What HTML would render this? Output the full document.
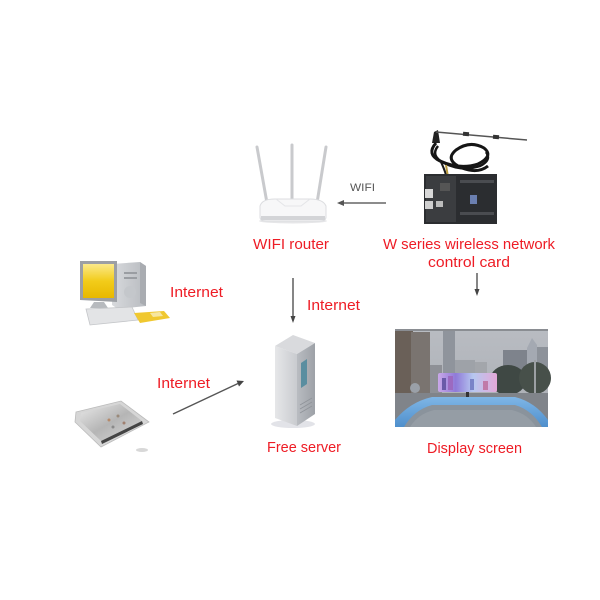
<!DOCTYPE html>
<html>
<head>
<meta charset="utf-8">
<style>
html,body{margin:0;padding:0;background:#fff;}
svg{display:block;}
text{font-family:"Liberation Sans","DejaVu Sans",sans-serif;}
</style>
</head>
<body>
<svg width="600" height="600" viewBox="0 0 600 600" xmlns="http://www.w3.org/2000/svg">
<defs>
  <linearGradient id="scr" x1="0" y1="0" x2="0" y2="1">
    <stop offset="0" stop-color="#fbe98a"/>
    <stop offset="0.5" stop-color="#f2cc1a"/>
    <stop offset="1" stop-color="#e8b800"/>
  </linearGradient>
  <linearGradient id="tower" x1="0" y1="0" x2="1" y2="0">
    <stop offset="0" stop-color="#d8dadd"/>
    <stop offset="1" stop-color="#b8bbc0"/>
  </linearGradient>
  <linearGradient id="srvF" x1="0" y1="0" x2="1" y2="0">
    <stop offset="0" stop-color="#e6e7e9"/>
    <stop offset="1" stop-color="#c9cbcf"/>
  </linearGradient>
  <linearGradient id="srvS" x1="0" y1="0" x2="1" y2="0">
    <stop offset="0" stop-color="#b9bcc1"/>
    <stop offset="1" stop-color="#9da1a7"/>
  </linearGradient>
  <linearGradient id="tab" x1="0" y1="0" x2="1" y2="1">
    <stop offset="0" stop-color="#e9e9e9"/>
    <stop offset="0.5" stop-color="#b5b5b5"/>
    <stop offset="1" stop-color="#d9d9d9"/>
  </linearGradient>
  <linearGradient id="sky" x1="0" y1="0" x2="0" y2="1">
    <stop offset="0" stop-color="#b9bcc2"/>
    <stop offset="1" stop-color="#a9adb3"/>
  </linearGradient>
  <linearGradient id="car" x1="0" y1="0" x2="0" y2="1">
    <stop offset="0" stop-color="#7fb6e6"/>
    <stop offset="1" stop-color="#4f8fcc"/>
  </linearGradient>
  <linearGradient id="led" x1="0" y1="0" x2="1" y2="0">
    <stop offset="0" stop-color="#c9a8e8"/>
    <stop offset="0.3" stop-color="#8f7ad8"/>
    <stop offset="0.6" stop-color="#b7c8f0"/>
    <stop offset="1" stop-color="#e4a8d8"/>
  </linearGradient>
</defs>

<!-- ===== WIFI router ===== -->
<g>
  <line x1="257" y1="147" x2="267" y2="203" stroke="#c9cacd" stroke-width="3" stroke-linecap="round"/>
  <line x1="292" y1="145" x2="292" y2="199" stroke="#c9cacd" stroke-width="3" stroke-linecap="round"/>
  <line x1="326" y1="147" x2="317" y2="203" stroke="#c9cacd" stroke-width="3" stroke-linecap="round"/>
  <ellipse cx="293" cy="221" rx="34" ry="2.5" fill="#e6e6e8"/>
  <path d="M260 206 Q262 199 275 199 L310 199 Q323 199 326 206 L326 217 Q326 221 320 221 L266 221 Q260 221 260 217 Z" fill="#f7f7f8" stroke="#dcdde0" stroke-width="1"/>
  <path d="M276 199 L285 206 L301 206 L310 199" fill="none" stroke="#e4e5e8" stroke-width="1"/>
  <rect x="261" y="216" width="64" height="4" fill="#d3d4d7"/>
</g>

<!-- WiFi arrow -->
<text x="350" y="191" font-size="11" fill="#555" textLength="25" lengthAdjust="spacingAndGlyphs">WIFI</text>
<line x1="343" y1="203" x2="386" y2="203" stroke="#666" stroke-width="1.5"/>
<path d="M337 203 L344 200 L344 206 Z" fill="#555"/>

<!-- ===== Control card ===== -->
<g>
  <!-- antenna -->
  <path d="M432 143 L434 132 L438 130 L440 143 Z" fill="#222"/>
  <line x1="436" y1="132" x2="527" y2="140" stroke="#555" stroke-width="1.5"/>
  <rect x="463" y="132" width="6" height="4" fill="#333" transform="rotate(5 466 134)"/>
  <rect x="493" y="135" width="6" height="4" fill="#333" transform="rotate(5 496 137)"/>
  <!-- cable loop -->
  <path d="M436 143 Q426 154 440 161 Q460 170 478 164 Q494 156 484 148 Q470 140 456 150 Q444 160 462 168 Q478 174 488 166" fill="none" stroke="#151515" stroke-width="3"/>
  <path d="M438 146 Q430 156 444 163 Q462 172 480 166 Q492 160 486 152" fill="none" stroke="#151515" stroke-width="2.5"/>
  <path d="M440 160 Q444 168 446 175" fill="none" stroke="#1a1a1a" stroke-width="2"/>
  <line x1="446" y1="165" x2="448" y2="177" stroke="#b89a40" stroke-width="2"/>
  <!-- board -->
  <rect x="424" y="174" width="73" height="50" fill="#2b2d30"/>
  <rect x="426" y="176" width="30" height="46" fill="#3b3d40"/>
  <rect x="425" y="189" width="8" height="9" fill="#d8d8d8"/>
  <rect x="425" y="201" width="8" height="8" fill="#cfcfcf"/>
  <rect x="436" y="201" width="7" height="6" fill="#bcbcbc"/>
  <rect x="470" y="195" width="7" height="9" fill="#6b7fb0"/>
  <rect x="460" y="180" width="34" height="3" fill="#4a4c50"/>
  <rect x="460" y="212" width="34" height="3" fill="#4a4c50"/>
  <rect x="440" y="183" width="10" height="8" fill="#555"/>
</g>

<text x="383" y="249" font-size="14.5" fill="#ee1c25" textLength="172" lengthAdjust="spacingAndGlyphs">W series wireless network</text>
<text x="428" y="267" font-size="14.5" fill="#ee1c25" textLength="82" lengthAdjust="spacingAndGlyphs">control card</text>
<text x="253" y="249" font-size="14.5" fill="#ee1c25" textLength="76" lengthAdjust="spacingAndGlyphs">WIFI router</text>

<!-- card -> display arrow -->
<line x1="477" y1="273" x2="477" y2="290" stroke="#444" stroke-width="1.3"/>
<path d="M477 296 L474.5 289 L479.5 289 Z" fill="#444"/>

<!-- router -> server arrow -->
<line x1="293" y1="278" x2="293" y2="317" stroke="#444" stroke-width="1.3"/>
<path d="M293 323 L290.5 316 L295.5 316 Z" fill="#444"/>
<text x="307" y="310" font-size="14.5" fill="#ee1c25" textLength="53" lengthAdjust="spacingAndGlyphs">Internet</text>

<!-- ===== Computer ===== -->
<g>
  <!-- tower -->
  <path d="M112 264 L140 262 L146 266 L146 306 L118 309 L112 305 Z" fill="url(#tower)"/>
  <path d="M140 262 L146 266 L146 306 L140 303 Z" fill="#a9acb1"/>
  <rect x="124" y="272" width="13" height="2" fill="#9a9da2"/>
  <rect x="124" y="277" width="13" height="2" fill="#9a9da2"/>
  <circle cx="130" cy="292" r="6" fill="#c4c7cb"/>
  <!-- monitor -->
  <path d="M80 261 L117 261 L117 302 L80 300 Z" fill="#9c9fa4"/>
  <rect x="83" y="264" width="31" height="34" fill="url(#scr)"/>
  <path d="M94 302 L104 302 L108 308 L90 308 Z" fill="#b7babe"/>
  <!-- keyboard -->
  <path d="M86 309 L132 307 L138 320 L90 325 Z" fill="#e3e4e6" stroke="#c4c6c9" stroke-width="0.8"/>
  <!-- mouse pad -->
  <path d="M134 313 L164 311 L170 318 L140 323 Z" fill="#f0c830"/>
  <path d="M150 313 L160 312 L163 316 L153 317 Z" fill="#f6e6a0"/>
</g>
<text x="170" y="297" font-size="14.5" fill="#ee1c25" textLength="53" lengthAdjust="spacingAndGlyphs">Internet</text>

<!-- ===== Tablet ===== -->
<g>
  <path d="M76 412 L121 401 L149 422 L101 447 L75 422 Z" fill="#d6d6d6" stroke="#bbb" stroke-width="0.8"/>
  <path d="M81 413 L120 404 L142 421 L101 441 L80 421 Z" fill="url(#tab)"/>
  <path d="M101 441 L142 421 L143 424 L102 444 Z" fill="#444"/>
  <circle cx="109" cy="420" r="1.5" fill="#b58a6a"/>
  <circle cx="118" cy="416" r="1.5" fill="#9a8a7a"/>
  <circle cx="113" cy="427" r="1.5" fill="#8a8a8a"/>
  <circle cx="124" cy="423" r="1.5" fill="#a08070"/>
  <ellipse cx="142" cy="450" rx="6" ry="2" fill="#d8d8d8"/>
</g>
<text x="157" y="388" font-size="14.5" fill="#ee1c25" textLength="53" lengthAdjust="spacingAndGlyphs">Internet</text>
<line x1="173" y1="414" x2="238" y2="383.5" stroke="#555" stroke-width="1.4"/>
<path d="M244 381 L236.5 380.5 L239 386.5 Z" fill="#444"/>

<!-- ===== Server ===== -->
<g>
  <ellipse cx="293" cy="424" rx="22" ry="4" fill="#e2e3e8"/>
  <path d="M275 346 L293 335 L315 343 L297 354 Z" fill="#d9dadd"/>
  <path d="M275 346 L297 354 L297 426 L275 418 Z" fill="url(#srvF)"/>
  <path d="M297 354 L315 343 L315 414 L297 426 Z" fill="url(#srvS)"/>
  <path d="M301 363 L307 359 L307 384 L301 388 Z" fill="#5a8ea0"/>
  <line x1="300" y1="405" x2="312" y2="398" stroke="#8f9399" stroke-width="0.8"/>
  <line x1="300" y1="409" x2="312" y2="402" stroke="#8f9399" stroke-width="0.8"/>
  <line x1="300" y1="413" x2="312" y2="406" stroke="#8f9399" stroke-width="0.8"/>
</g>
<text x="267" y="452" font-size="14.5" fill="#ee1c25" textLength="74" lengthAdjust="spacingAndGlyphs">Free server</text>

<!-- ===== Display screen photo ===== -->
<g>
  <rect x="395" y="329" width="153" height="98" fill="url(#sky)"/>
  <rect x="395" y="329" width="153" height="2" fill="#8a8d92"/>
  <!-- left buildings -->
  <rect x="395" y="331" width="18" height="66" fill="#6a6058"/>
  <rect x="411" y="332" width="19" height="63" fill="#7a7470"/>
  <rect x="430" y="365" width="12" height="30" fill="#8e9096"/>
  <!-- tower -->
  <rect x="443" y="331" width="12" height="45" fill="#8f949c"/>
  <rect x="455" y="360" width="20" height="16" fill="#9ea2a8"/>
  <rect x="475" y="362" width="12" height="14" fill="#a3a6ab"/>
  <!-- right buildings -->
  <rect x="503" y="350" width="30" height="30" fill="#7e838c"/>
  <path d="M527 348 L532 338 L537 345 L537 378 L527 378 Z" fill="#a4a9b2"/>
  <rect x="537" y="347" width="11" height="33" fill="#8d929a"/>
  <!-- trees -->
  <ellipse cx="508" cy="380" rx="18" ry="15" fill="#3f4844"/>
  <ellipse cx="535" cy="378" rx="16" ry="16" fill="#47504a"/>
  <rect x="534" y="360" width="2" height="40" fill="#9ca0a4"/>
  <!-- ground -->
  <rect x="395" y="393" width="153" height="34" fill="#80848a"/>
  <circle cx="415" cy="388" r="5" fill="#9aa0a8"/>
  <!-- LED sign -->
  <rect x="438" y="373" width="59" height="19" rx="2" fill="url(#led)"/>
  <rect x="442" y="378" width="4" height="12" fill="#6a5aa8"/>
  <rect x="448" y="376" width="5" height="14" fill="#9c6ac0"/>
  <rect x="470" y="379" width="4" height="11" fill="#7a84c8"/>
  <rect x="483" y="381" width="5" height="9" fill="#c07aa8"/>
  <rect x="466" y="392" width="3" height="5" fill="#333"/>
  <!-- car -->
  <path d="M395 420 Q410 402 432 397 L515 397 Q535 402 548 420 L548 427 L395 427 Z" fill="url(#car)"/>
  <path d="M404 427 Q414 410 432 405 L515 405 Q532 410 542 427 Z" fill="#8a939c"/>
  <path d="M410 427 Q418 414 434 410 L512 410 Q528 414 536 427 Z" fill="#959da5"/>
</g>
<text x="427" y="453" font-size="14.5" fill="#ee1c25" textLength="95" lengthAdjust="spacingAndGlyphs">Display screen</text>
</svg>
</body>
</html>
